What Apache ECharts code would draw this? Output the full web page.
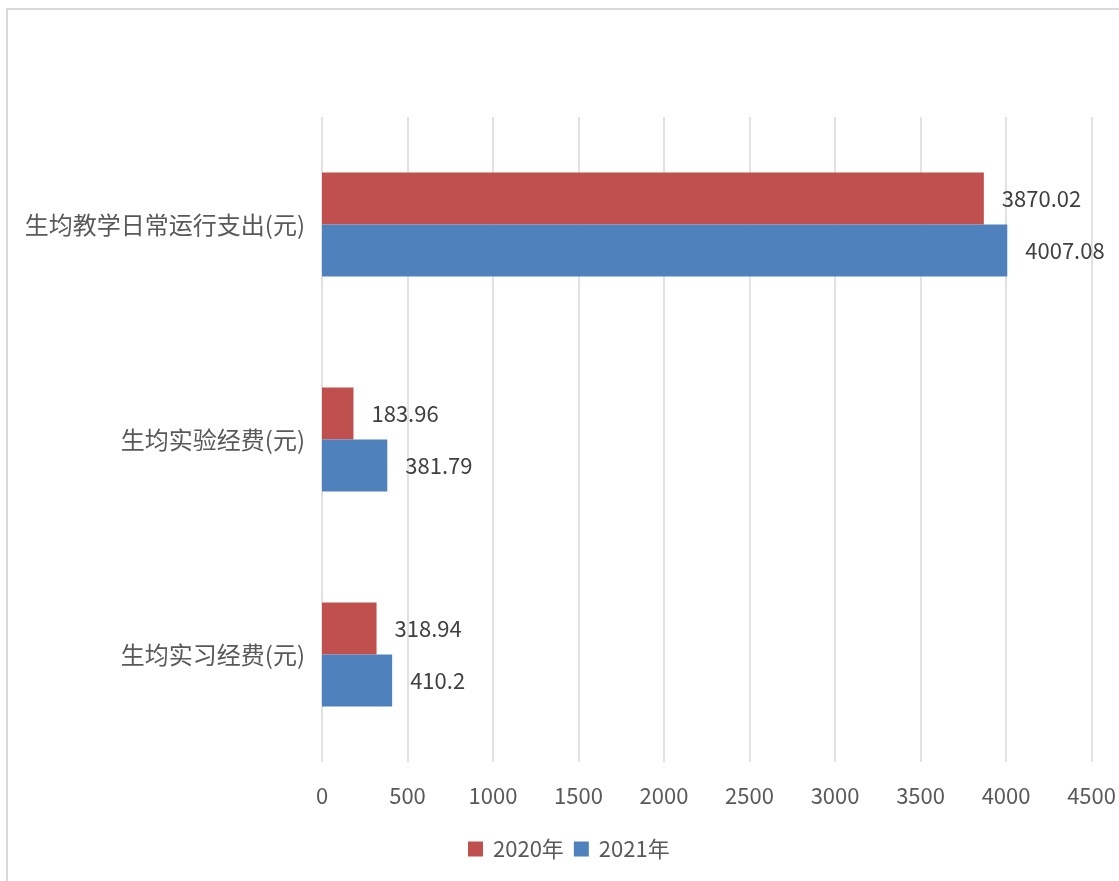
<!DOCTYPE html>
<html><head><meta charset="utf-8">
<script src="https://cdn.jsdelivr.net/npm/echarts@6/dist/echarts.min.js"></script>
<style>html,body{margin:0;padding:0;background:#fff}#c{width:1119px;height:881px}</style>
</head><body><div id="c"></div>
<script>
const categories = ['生均实习经费(元)', '生均实验经费(元)', '生均教学日常运行支出(元)'];
const seriesNames = ['2020年', '2021年'];
const values2020 = [318.94, 183.96, 3870.02];
const values2021 = [410.2, 381.79, 4007.08];
const xTicks = {min: 0, max: 4500, interval: 500};

const font = '"Noto Sans CJK SC", "Noto Sans", sans-serif';
const chart = echarts.init(document.getElementById('c'));
chart.setOption({
  animation: false,
  backgroundColor: '#fff',
  graphic: [{type: 'rect', shape: {x: 7, y: 9, width: 1300, height: 1000},
    style: {fill: 'none', stroke: '#d9d9d9', lineWidth: 2}, silent: true}],
  grid: {left: 322, right: 26.5, top: 117, bottom: 119, containLabel: false},
  legend: {
    data: seriesNames, top: 833, left: 463, itemWidth: 15, itemHeight: 15, itemGap: 10,
    icon: 'rect',
    textStyle: {fontFamily: font, fontSize: 22, color: '#595959', padding: [0, 0, 0, 5]}
  },
  xAxis: {
    type: 'value', min: xTicks.min, max: xTicks.max, interval: xTicks.interval,
    axisLine: {show: false}, axisTick: {show: false},
    splitLine: {show: true, lineStyle: {color: '#d9d9d9', width: 1.5}},
    axisLabel: {fontFamily: font, fontSize: 22, color: '#595959', margin: 23,
      formatter: v => String(v)}
  },
  yAxis: {
    type: 'category', data: categories,
    axisLine: {show: false}, axisTick: {show: false},
    axisLabel: {fontFamily: font, fontSize: 24, color: '#595959', margin: 17}
  },
  series: [
    {name: seriesNames[0], type: 'bar', data: values2020, barWidth: 52, barGap: '0%',
     itemStyle: {color: '#C0504D'},
     label: {show: true, position: 'right', distance: 18, fontFamily: font, fontSize: 22, color: '#404040'}},
    {name: seriesNames[1], type: 'bar', data: values2021, barWidth: 52, barGap: '0%',
     itemStyle: {color: '#4F81BD'},
     label: {show: true, position: 'right', distance: 18, fontFamily: font, fontSize: 22, color: '#404040'}}
  ]
});
</script></body></html>
